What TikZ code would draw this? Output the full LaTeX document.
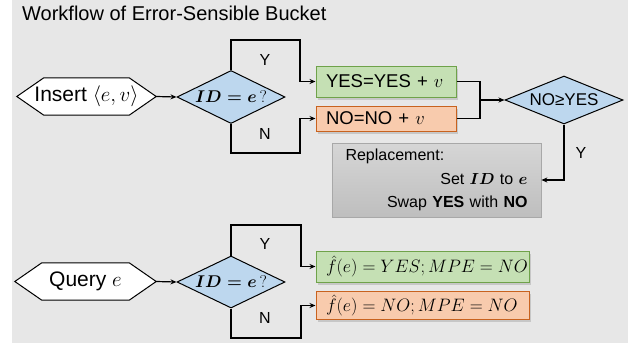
\documentclass[tikz,border=0pt]{standalone}
\usepackage{fix-cm}
\usepackage{amsmath,amssymb}
\usepackage{fontspec}
\setmainfont{Liberation Sans}
\usepackage{tikz}
\usetikzlibrary{arrows.meta,calc,positioning,shapes.geometric,shadows,backgrounds}
\definecolor{EsbBack}{HTML}{E7E7E7}
\definecolor{EsbBlue}{HTML}{BDD7EE}
\definecolor{EsbGreen}{HTML}{C5E0B4}
\definecolor{EsbGreenLine}{HTML}{6FA24A}
\definecolor{EsbOrange}{HTML}{F8CBAD}
\definecolor{EsbOrangeLine}{HTML}{C8621E}
\definecolor{EsbGrayTop}{HTML}{D6D6D6}
\definecolor{EsbGrayBot}{HTML}{BEBEBE}
\definecolor{EsbGrayLine}{HTML}{A8A8A8}

\begin{document}
\begin{tikzpicture}[x=1pt,y=-1pt,
  flow/.style={line width=1.2pt,-{Stealth[length=6pt,width=5pt]}},
  hexnode/.style={inner sep=0pt,minimum width=139pt,minimum height=37pt,
    font=\fontsize{21}{24}\selectfont},
  hexline/.style={draw,fill=white,line width=1pt},
  check/.style={diamond,draw,fill=EsbBlue,aspect=2,inner sep=0pt,line width=1pt,
    minimum width=108pt,minimum height=53pt,font=\fontsize{17}{20}\selectfont},
  greenbox/.style={draw=EsbGreenLine,fill=EsbGreen,line width=1pt,inner xsep=10pt,align=left,
    drop shadow={shadow xshift=2pt,shadow yshift=-2.5pt,opacity=.3}},
  orangebox/.style={draw=EsbOrangeLine,fill=EsbOrange,line width=1pt,inner xsep=10pt,align=left,
    drop shadow={shadow xshift=2pt,shadow yshift=-2.5pt,opacity=.3}},
  yn/.style={font=\fontsize{16}{18}\selectfont}]
  \useasboundingbox (0,0) rectangle (641,348);
  \node[anchor=base west,inner sep=0pt,font=\fontsize{20}{24}\selectfont] (title) at (22,20.5) {Workflow of Error-Sensible Bucket};

  % insert
  \node[hexnode] (ins) at (86.5,96.5) {Insert $\langle e,v\rangle$};
  \node[check] (d1) at (231,97) {$\boldsymbol{ID=e}\,?$};
  \node[greenbox,text width=120pt,minimum height=31pt,font=\fontsize{18.5}{22}\selectfont] (yes1) at (386,81.5) {\mbox{YES=YES + $v$}};
  \node[orangebox,text width=120pt,minimum height=25pt,font=\fontsize{18.5}{22}\selectfont] (no1) at (386,118.5) {\mbox{NO=NO + $v$}};
  \node[check,minimum width=118pt,minimum height=48pt,aspect=2.5,font=\fontsize{17}{20}\selectfont] (d2) at (564,100) {NO≥YES};
  \node[draw=EsbGrayLine,line width=.8pt,top color=EsbGrayTop,bottom color=EsbGrayBot,
    minimum width=209pt,minimum height=74pt,text width=182pt,inner xsep=13.5pt,inner ysep=0pt,align=left,
    font=\fontsize{16}{23.5}\selectfont] (rep) at (436.5,180)
    {Replacement:\\ \hfill Set $\boldsymbol{ID}$ to $\boldsymbol{e}$\\ \hfill Swap \textbf{YES} with \textbf{NO}};
  \coordinate (y1) at (300,40);
  \coordinate (n1) at (300,153);
  \coordinate (mrg) at (480,100);
  \draw[flow] (ins.east) -- (d1.west);
  \draw[flow] (d1.north) |- (y1) |- (yes1.west);
  \draw[flow] (d1.south) |- (n1) |- (no1.west);
  \draw[line width=1.2pt] (yes1.east) -| (mrg);
  \draw[line width=1.2pt] (no1.east) -| (mrg);
  \draw[flow] (mrg) -- (d2.west);
  \draw[flow] (d2.south) |- (rep.east);
  \node[yn] (ly1) at (265,60) {Y};
  \node[yn] (ln1) at (265,134) {N};
  \node[yn] (ly2) at (581,153) {Y};

  % query
  \node[hexnode,minimum width=141pt] (qry) at (85.5,281.5) {Query $e$};
  \node[check,minimum height=52pt] (d3) at (231,282) {$\boldsymbol{ID=e}\,?$};
  \node[greenbox,text width=193pt,minimum height=31pt,font=\fontsize{18}{20}\selectfont] (yes2) at (422.5,266.5) {\mbox{$\hat{f}(e)=YES;MPE=NO$}};
  \node[orangebox,text width=193pt,minimum height=27pt,font=\fontsize{18}{20}\selectfont] (no2) at (422.5,305.5) {\mbox{$\hat{f}(e)=NO;MPE=NO$}};
  \coordinate (y2) at (301,225);
  \coordinate (n2) at (301,338);
  \draw[flow] (qry.east) -- (d3.west);
  \draw[flow] (d3.north) |- (y2) |- (yes2.west);
  \draw[flow] (d3.south) |- (n2) |- (no2.west);
  \node[yn] (ly3) at (265,244) {Y};
  \node[yn] (ln2) at (265,318) {N};

  \begin{scope}[on background layer]
    \fill[EsbBack] (12,0) rectangle (628,343);
    \foreach \h in {ins,qry}
      \draw[hexline] (\h.west) -- ($(\h.north west)+(27,0)$) -- ($(\h.north east)+(-27,0)$)
        -- (\h.east) -- ($(\h.south east)+(-27,0)$) -- ($(\h.south west)+(27,0)$) -- cycle;
  \end{scope}
\end{tikzpicture}
\end{document}
